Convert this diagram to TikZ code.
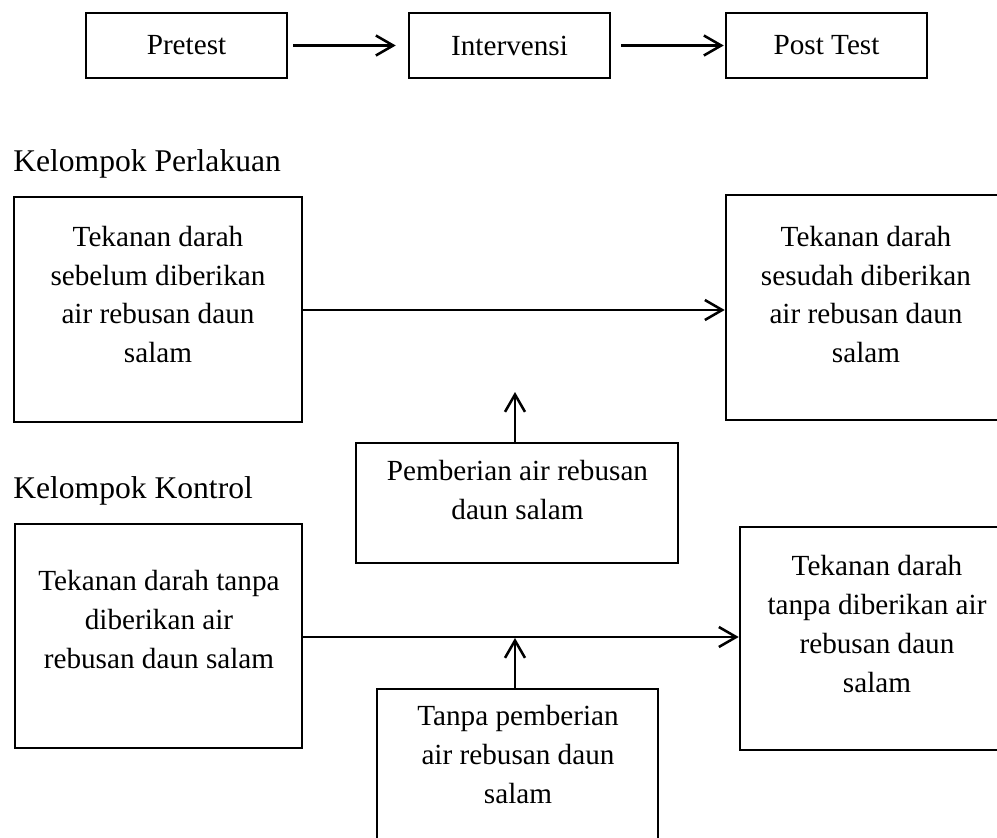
\documentclass[tikz,border=0pt]{standalone}
\usepackage{fontspec}
\setmainfont{Liberation Serif}
\usetikzlibrary{arrows.meta}
\begin{document}
\begin{tikzpicture}[x=0.75pt,y=-0.75pt,
  boxnode/.style={draw, line width=1.9pt, inner sep=0pt},
  txt/.style={align=center, inner sep=0pt, font=\fontsize{21.9pt}{29.25pt}\selectfont},
  lbl/.style={inner sep=0pt, font=\fontsize{23.7pt}{28pt}\selectfont},
  conn/.style={line width=1.9pt, -{Straight Barb[length=13pt,width=15pt,line width=1.9pt]}}]
\useasboundingbox (0,0) rectangle (997,838);
\clip (0,0) rectangle (997,838);

% top row
\node[boxnode, minimum width=150.75pt, minimum height=48.75pt, txt] (pre) at (186.5,45.5) {Pretest};
\node[boxnode, minimum width=150.75pt, minimum height=48.75pt, txt] (int) at (509.5,45.5) {Intervensi};
\node[boxnode, minimum width=150.75pt, minimum height=48.75pt, txt] (post) at (826.5,45.5) {Post Test};
\draw[conn, shorten <=3.75pt, shorten >=9pt] (pre) -- (int);
\draw[conn, shorten <=7.5pt, shorten >=0.75pt] (int) -- (post);

% group labels
\node[lbl, anchor=base west] (kp) at (13,172) {Kelompok Perlakuan};
\node[lbl, anchor=base west] (kk) at (13,498) {Kelompok Kontrol};

% boxes
\node[boxnode, minimum width=216pt, minimum height=168.75pt] (b1) at (158,309.5) {};
\node[boxnode, minimum width=211.5pt, minimum height=168.75pt] (b2) at (867,307.5) {};
\node[boxnode, minimum width=241.5pt, minimum height=90pt] (pb) at (517,503) {};
\node[boxnode, minimum width=215.25pt, minimum height=168pt] (b3) at (158.5,636) {};
\node[boxnode, minimum width=204.75pt, minimum height=167.25pt] (b4) at (876.5,638.5) {};
\node[boxnode, minimum width=210.75pt, minimum height=118.5pt] (tp) at (517.5,768) {};

% texts (base anchor = baseline of last line)
\node[txt, anchor=base] (t1) at (158,363) {Tekanan darah\\sebelum diberikan\\air rebusan daun\\salam};
\node[txt, anchor=base] (t2) at (866,363) {Tekanan darah\\sesudah diberikan\\air rebusan daun\\salam};
\node[txt, anchor=base] (tpb) at (517.5,519) {Pemberian air rebusan\\daun salam};
\node[txt, anchor=base] (t3) at (159,668) {Tekanan darah tanpa\\diberikan air\\rebusan daun salam};
\node[txt, anchor=base] (t4) at (877,692) {Tekanan darah\\tanpa diberikan air\\rebusan daun\\salam};
\node[txt, anchor=base] (ttp) at (518,803) {Tanpa pemberian\\air rebusan daun\\salam};

% connectors
\draw[conn] (b1.east |- 0,310) -- (b2.west |- 0,310);
\draw[conn] (b3.east |- 0,637) -- (b4.west |- 0,637);
\coordinate (c1) at (515,392);
\coordinate (c2) at (515,638);
\draw[conn] (pb.north -| c1) -- (c1);
\draw[conn] (tp.north -| c2) -- (c2);
\end{tikzpicture}
\end{document}
